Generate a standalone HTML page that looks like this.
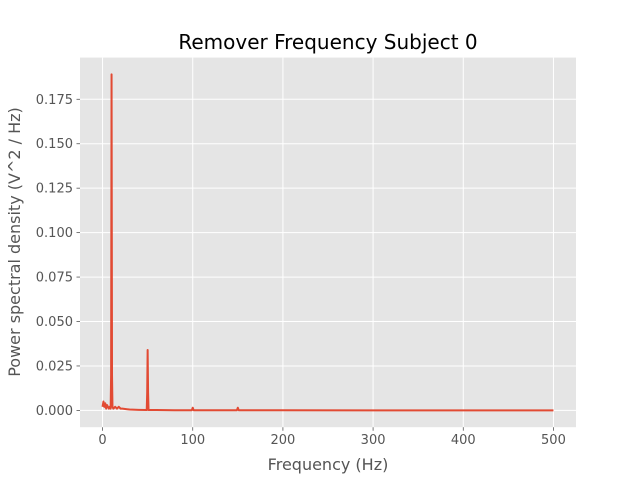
<!DOCTYPE html>
<html><head><meta charset="utf-8"><style>
body{margin:0;background:#fff;}
svg{display:block;font-family:"DejaVu Sans","Liberation Sans",sans-serif;}
</style></head><body>
<svg id="chart" width="640" height="480" viewBox="0 0 640 480">
<rect x="0" y="0" width="640" height="480" fill="#fff"/>
<rect x="80" y="57.6" width="496" height="369.6" fill="#E5E5E5"/>
<g id="grid"></g>
<g id="ticks"></g>
<path id="line" fill="none" stroke="#E24A33" stroke-width="2" stroke-linejoin="round"/>
<text x="328" y="49" text-anchor="middle" font-size="20" fill="#000">Remover Frequency Subject 0</text>
<text x="328" y="470" text-anchor="middle" font-size="16" fill="#555">Frequency (Hz)</text>
<text transform="translate(20,242) rotate(-90)" text-anchor="middle" font-size="16" fill="#555">Power spectral density (V^2 / Hz)</text>
</svg>
<script>
const freqs=[0,1,2,3,4,5,6,7,8,9,9.5,10,10.5,11,12,14,16,18,20,22,25,30,40,49,49.5,50,50.5,51,60,80,99,100,101,149,150,151,200,300,400,500];
const psd=[0.002,0.005,0.002,0.004,0.001,0.003,0.002,0.001,0.002,0.001,0.02,0.189,0.02,0.002,0.001,0.002,0.001,0.002,0.001,0.001,0.0008,0.0005,0.0003,0.0002,0.01,0.034,0.01,0.0002,0.0002,0.0001,0.0001,0.0015,0.0001,0.0001,0.0015,0.0001,0.00005,0.00003,0.00002,0.00001];
const xTicks=[0,100,200,300,400,500];
const yTicks=[0,0.025,0.05,0.075,0.1,0.125,0.15,0.175];
const yTickLabels=["0.000","0.025","0.050","0.075","0.100","0.125","0.150","0.175"];
const L=80,R=576,T=57.6,B=427.2,xmin=-25,xmax=525,ymin=-0.00945,ymax=0.19845;
const sx=v=>L+(v-xmin)/(xmax-xmin)*(R-L);
const sy=v=>B-(v-ymin)/(ymax-ymin)*(B-T);
const NS="http://www.w3.org/2000/svg";
const grid=document.getElementById('grid'),ticks=document.getElementById('ticks');
function mk(tag,attrs,parent){const e=document.createElementNS(NS,tag);for(const k in attrs)e.setAttribute(k,attrs[k]);parent.appendChild(e);return e;}
xTicks.forEach(v=>{const x=sx(v);
 const g=mk('line',{x1:x,x2:x,y1:T,y2:B,stroke:'#fff','stroke-width':1},grid);
 
 
 mk('line',{x1:x,x2:x,y1:B,y2:B+3.5,stroke:'#555','stroke-width':0.8},ticks);
 const t=mk('text',{x:x,y:B+17,'text-anchor':'middle','font-size':13,fill:'#555'},ticks);
 t.textContent=v;
 
 
});
yTicks.forEach((v,i)=>{const y=sy(v);
 const g=mk('line',{x1:L,x2:R,y1:y,y2:y,stroke:'#fff','stroke-width':1},grid);
 
 
 mk('line',{x1:L-3.5,x2:L,y1:y,y2:y,stroke:'#555','stroke-width':0.8},ticks);
 const t=mk('text',{x:L-7,y:y+4.5,'text-anchor':'end','font-size':13,fill:'#555'},ticks);
 t.textContent=yTickLabels[i];
 
 
});
document.getElementById('line').setAttribute('d',freqs.map((f,i)=>(i?'L':'M')+sx(f).toFixed(2)+' '+sy(psd[i]).toFixed(2)).join(' '));
</script>
</body></html>
